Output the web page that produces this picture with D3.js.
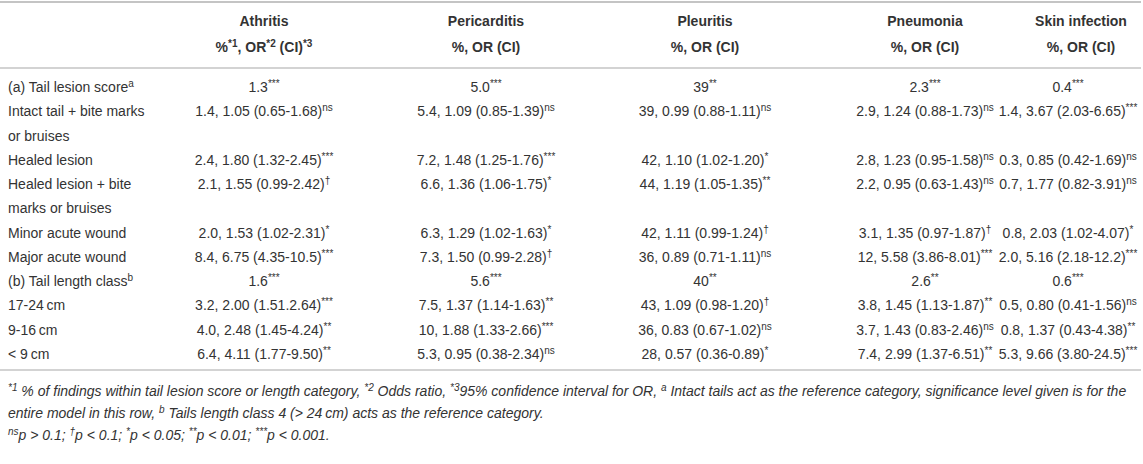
<!DOCTYPE html>
<html>
<head>
<meta charset="utf-8">
<script src="https://cdn.jsdelivr.net/npm/d3@7"></script>
<style>
    body { margin: 0; background: #fff; }
    .svgbox text { font-family: 'Liberation Sans', Arial, Helvetica, sans-serif; fill: #333; }
</style>
</head>
<body>
<div id="chart"></div>
<script>
// column headers
var diseases = ['Athritis', 'Pericarditis', 'Pleuritis', 'Pneumonia', 'Skin infection'];

// row labels (one entry per line) and their superscripts
var rowLabels = [
    ['(a) Tail lesion score'],
    ['Intact tail + bite marks', 'or bruises'],
    ['Healed lesion'],
    ['Healed lesion + bite', 'marks or bruises'],
    ['Minor acute wound'],
    ['Major acute wound'],
    ['(b) Tail length class'],
    ['17-24\u2009cm'],
    ['9-16\u2009cm'],
    ['< 9\u2009cm']
];
var rowSup = ['a', '', '', '', '', '', 'b', '', '', ''];

// %, OR (CI) per disease, with significance marks
var athritis = ['1.3', '1.4, 1.05 (0.65-1.68)', '2.4, 1.80 (1.32-2.45)', '2.1, 1.55 (0.99-2.42)', '2.0, 1.53 (1.02-2.31)',
    '8.4, 6.75 (4.35-10.5)', '1.6', '3.2, 2.00 (1.51.2.64)', '4.0, 2.48 (1.45-4.24)', '6.4, 4.11 (1.77-9.50)'];
var athritisSig = ['***', 'ns', '***', '\u2020', '*', '***', '***', '***', '**', '**'];

var pericarditis = ['5.0', '5.4, 1.09 (0.85-1.39)', '7.2, 1.48 (1.25-1.76)', '6.6, 1.36 (1.06-1.75)', '6.3, 1.29 (1.02-1.63)',
    '7.3, 1.50 (0.99-2.28)', '5.6', '7.5, 1.37 (1.14-1.63)', '10, 1.88 (1.33-2.66)', '5.3, 0.95 (0.38-2.34)'];
var pericarditisSig = ['***', 'ns', '***', '*', '*', '\u2020', '***', '**', '***', 'ns'];

var pleuritis = ['39', '39, 0.99 (0.88-1.11)', '42, 1.10 (1.02-1.20)', '44, 1.19 (1.05-1.35)', '42, 1.11 (0.99-1.24)',
    '36, 0.89 (0.71-1.11)', '40', '43, 1.09 (0.98-1.20)', '36, 0.83 (0.67-1.02)', '28, 0.57 (0.36-0.89)'];
var pleuritisSig = ['**', 'ns', '*', '**', '\u2020', 'ns', '**', '\u2020', 'ns', '*'];

var pneumonia = ['2.3', '2.9, 1.24 (0.88-1.73)', '2.8, 1.23 (0.95-1.58)', '2.2, 0.95 (0.63-1.43)', '3.1, 1.35 (0.97-1.87)',
    '12, 5.58 (3.86-8.01)', '2.6', '3.8, 1.45 (1.13-1.87)', '3.7, 1.43 (0.83-2.46)', '7.4, 2.99 (1.37-6.51)'];
var pneumoniaSig = ['***', 'ns', 'ns', 'ns', '\u2020', '***', '**', '**', 'ns', '**'];

var skinInfection = ['0.4', '1.4, 3.67 (2.03-6.65)', '0.3, 0.85 (0.42-1.69)', '0.7, 1.77 (0.82-3.91)', '0.8, 2.03 (1.02-4.07)',
    '2.0, 5.16 (2.18-12.2)', '0.6', '0.5, 0.80 (0.41-1.56)', '0.8, 1.37 (0.43-4.38)', '5.3, 9.66 (3.80-24.5)'];
var skinInfectionSig = ['***', '***', 'ns', 'ns', '*', '***', '***', 'ns', '**', '***'];

var columnValues = [athritis, pericarditis, pleuritis, pneumonia, skinInfection];
var columnSig = [athritisSig, pericarditisSig, pleuritisSig, pneumoniaSig, skinInfectionSig];

// sub header pieces: [text, superscript?]
var subHeaderFirst = [['%', 0], ['*1', 1], [', OR', 0], ['*2', 1], [' (CI)', 0], ['*3', 1]];
var subHeaderOther = [['%, OR (CI)', 0]];

// footnote lines: [text, superscript?] pieces
var footnotes = [
    [['*1', 1], [' % of findings within tail lesion score or length category, ', 0], ['*2', 1],
     [' Odds ratio, ', 0], ['*3', 1], ['95% confidence interval for OR, ', 0], ['a', 1],
     [' Intact tails act as the reference category, significance level given is for the', 0]],
    [['entire model in this row, ', 0], ['b', 1], [' Tails length class 4 (> 24\u2009cm) acts as the reference category.', 0]],
    [['ns', 1], ['p > 0.1; ', 0], ['\u2020', 1], ['p < 0.1; ', 0], ['*', 1], ['p < 0.05; ', 0], ['**', 1],
     ['p < 0.01; ', 0], ['***', 1], ['p < 0.001.', 0]]
];

function oddsTable(){

    var width;
    var height;
    var element;

    function chart(selection){
        selection.each(function() {

            var svg;
            element = this;

            var fontsize = 14;
            var supsize = 10;
            var lineColor = '#c4c4c4';
            var rightEdge = 1139;

            svg = d3.select(element)
                .append('svg')
                .attr('width', width)
                .attr('height', height)
                .attr('class', 'svgbox')
                .style('display', 'block');

            // column positions
            var x = d3.scaleOrdinal()
                .domain(diseases)
                .range([264, 486, 705, 925, 1068]);
            var xHead = d3.scaleOrdinal()
                .domain(diseases)
                .range([264, 486, 705, 925, 1081]);

            // line positions (rows with two lines take two slots)
            var lineStart = [];
            var count = 0;
            rowLabels.forEach(function(lines){
                lineStart.push(count);
                count += lines.length;
            });
            var y = d3.scaleLinear()
                .domain([0, count - 1])
                .range([87, 354]);

            // writes [text, sup] pieces into a text element
            function writePieces(t, pieces, size, shift){
                var raised = false;
                pieces.forEach(function(p){
                    var span = t.append('tspan').text(p[0]);
                    if (p[1]) {
                        span.attr('dy', raised ? 0 : -shift).style('font-size', size + 'px');
                        raised = true;
                    } else {
                        span.attr('dy', raised ? shift : 0);
                        raised = false;
                    }
                });
            }

            // keeps centred texts inside the right edge
            function clampRight(sel){
                sel.each(function(){
                    var box = this.getBBox();
                    var over = box.x + box.width - rightEdge;
                    if (over > 0) {
                        d3.select(this).attr('x', +d3.select(this).attr('x') - over);
                    }
                });
            }

            // rules
            var rules = [{y: 2, w: 2}, {y: 68, w: 1.5}, {y: 370, w: 1.5}];
            svg.append('g').attr('class', 'rules')
                .selectAll('line')
                .data(rules)
                .enter().append('line')
                .attr('x1', 0)
                .attr('x2', width - 2)
                .attr('y1', function(d){ return d.y; })
                .attr('y2', function(d){ return d.y; })
                .style('stroke', lineColor)
                .style('stroke-width', function(d){ return d.w; });

            // headers
            var header = svg.append('g').attr('class', 'header');
            header.selectAll('.title')
                .data(diseases)
                .enter().append('text')
                .attr('class', 'title')
                .attr('x', function(d){ return xHead(d); })
                .attr('y', 26)
                .attr('text-anchor', 'middle')
                .style('font-size', fontsize + 'px')
                .style('font-weight', 'bold')
                .text(function(d){ return d; });

            header.selectAll('.sub')
                .data(diseases)
                .enter().append('text')
                .attr('class', 'sub')
                .attr('x', function(d){ return xHead(d); })
                .attr('y', 52)
                .attr('text-anchor', 'middle')
                .style('font-size', fontsize + 'px')
                .style('font-weight', 'bold')
                .each(function(d, i){
                    writePieces(d3.select(this), i === 0 ? subHeaderFirst : subHeaderOther, supsize, 5);
                });

            // row labels
            var labels = svg.append('g').attr('class', 'labels');
            rowLabels.forEach(function(lines, r){
                lines.forEach(function(line, k){
                    var t = labels.append('text')
                        .attr('x', 8)
                        .attr('y', y(lineStart[r] + k) + 5)
                        .style('font-size', fontsize + 'px');
                    var pieces = [[line, 0]];
                    if (k === 0 && rowSup[r]) pieces.push([rowSup[r], 1]);
                    writePieces(t, pieces, supsize, 5);
                });
            });

            // cells
            var cells = svg.append('g').attr('class', 'cells');
            diseases.forEach(function(name, c){
                cells.selectAll('.cell-' + c)
                    .data(columnValues[c])
                    .enter().append('text')
                    .attr('class', 'cell-' + c)
                    .attr('x', x(name))
                    .attr('y', function(d, r){ return y(lineStart[r]) + 5; })
                    .attr('text-anchor', 'middle')
                    .style('font-size', fontsize + 'px')
                    .each(function(d, r){
                        writePieces(d3.select(this), [[d, 0], [columnSig[c][r], 1]], supsize, 5);
                    })
                    .call(clampRight);
            });

            // footnotes
            var notes = svg.append('g').attr('class', 'notes');
            footnotes.forEach(function(pieces, i){
                var t = notes.append('text')
                    .attr('x', 8)
                    .attr('y', 396 + i * 22)
                    .style('font-size', '14px')
                    .style('font-style', 'italic');
                writePieces(t, pieces, 10, 5);
            });
        });
    }

    chart.setWidth = function(value){
        width = value;
        return chart;
    };

    chart.setHeight = function(value){
        height = value;
        return chart;
    };

    chart.getElement = function(){
        return element;
    };

    return chart;
}

var table = oddsTable()
    .setWidth(1143)
    .setHeight(464);

d3.select('#chart').call(table);
</script>
</body>
</html>
